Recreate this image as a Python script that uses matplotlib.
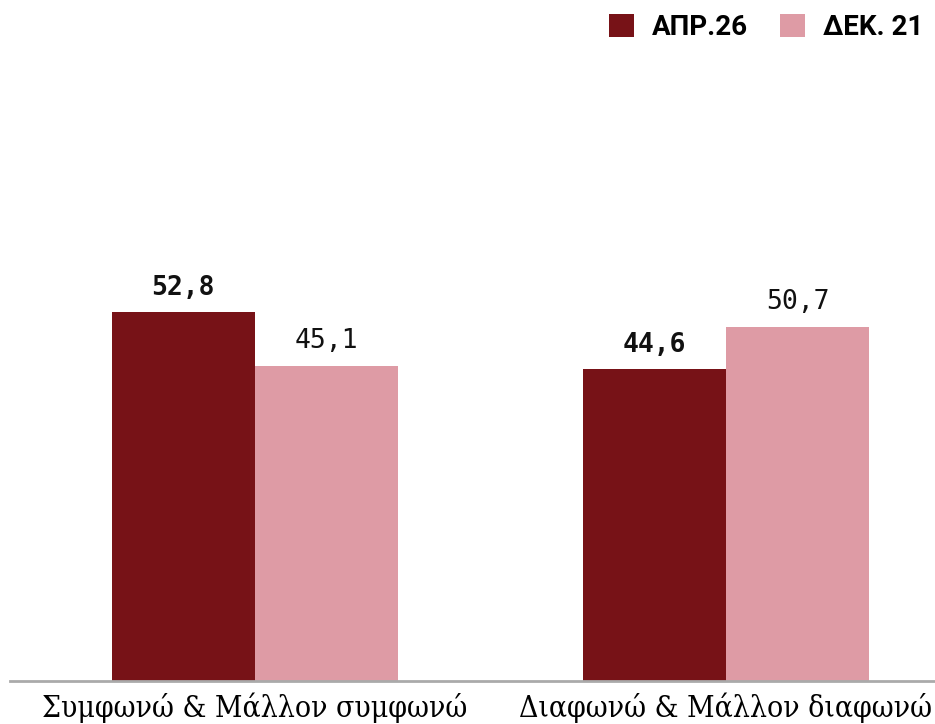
import matplotlib.pyplot as plt
import numpy as np

categories = ['Συμφωνώ & Μάλλον συμφωνώ', 'Διαφωνώ & Μάλλον διαφωνώ']
series_names = ['ΑΠΡ.26', 'ΔΕΚ. 21']
apr26 = [52.8, 44.6]
dec21 = [45.1, 50.7]

dark = '#771217'
pink = '#de9ba5'


def fmt(v):
    return f'{v:.1f}'.replace('.', ',')


fig = plt.figure(figsize=(9.35, 7.24), dpi=100)
ax = fig.add_axes([10 / 935, 43 / 724, 925 / 935, 681 / 724])

x = np.arange(len(categories))
w = 0.304
b1 = ax.bar(x - w / 2, apr26, width=w, color=dark, label=series_names[0])
b2 = ax.bar(x + w / 2, dec21, width=w, color=pink, label=series_names[1])

for rect, v in zip(b1, apr26):
    ax.text(rect.get_x() + rect.get_width() / 2, v + 1.6, fmt(v),
            ha='center', va='bottom', fontsize=19, fontweight='bold',
            family='DejaVu Sans Mono', color='#111111')
for rect, v in zip(b2, dec21):
    ax.text(rect.get_x() + rect.get_width() / 2, v + 1.6, fmt(v),
            ha='center', va='bottom', fontsize=19,
            family='DejaVu Sans Mono', color='#111111')

ax.set_xlim(-0.52, 1.444)
ax.set_ylim(0, 97.4)
ax.set_xticks(x)
ax.set_xticklabels(categories, family='DejaVu Serif', fontsize=21.5,
                   fontstretch='condensed')
ax.tick_params(axis='x', length=0, pad=8.5)
ax.set_yticks([])
for s in ['top', 'right', 'left']:
    ax.spines[s].set_visible(False)
ax.spines['bottom'].set_color('#aaaaaa')
ax.spines['bottom'].set_linewidth(2)

fig.legend(*ax.get_legend_handles_labels(), loc='upper right',
           bbox_to_anchor=(937 / 935, 1.0), ncol=2, frameon=False,
           prop={'family': 'Roboto', 'weight': 'bold', 'size': 20},
           borderpad=0, handlelength=0.9, handleheight=0.9,
           columnspacing=1.15, handletextpad=0.65)

fig.savefig('out.png', dpi=100)
